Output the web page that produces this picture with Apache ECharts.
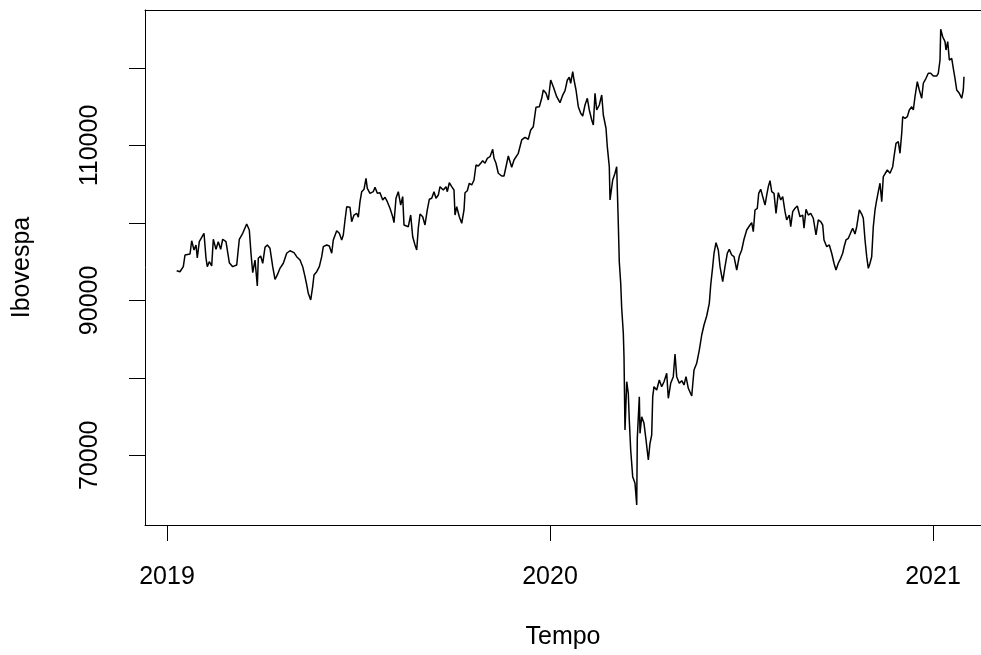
<!DOCTYPE html>
<html>
<head>
<meta charset="utf-8">
<script src="https://cdn.jsdelivr.net/npm/echarts@6/dist/echarts.min.js"></script>
<style>
html,body{margin:0;padding:0;background:#fff;}
#chart{width:981px;height:655px;}
</style>
</head>
<body>
<div id="chart"></div>
<script>
// Time (decimal year) and Ibovespa closing level
const tempo = [
2019.0253,2019.0339,2019.0426,2019.0470,2019.0601,2019.0645,2019.0705,2019.0757,2019.0791,2019.0843,
2019.0906,2019.0966,2019.1018,2019.1052,2019.1104,2019.1167,2019.1209,2019.1279,2019.1339,2019.1402,
2019.1454,2019.1540,2019.1574,2019.1627,2019.1715,2019.1820,2019.1888,2019.1977,2019.2081,2019.2149,
2019.2193,2019.2238,2019.2298,2019.2358,2019.2384,2019.2446,2019.2499,2019.2559,2019.2619,2019.2689,
2019.2760,2019.2820,2019.2880,2019.2950,2019.3037,2019.3125,2019.3211,2019.3316,2019.3386,2019.3473,
2019.3543,2019.3603,2019.3648,2019.3689,2019.3752,2019.3804,2019.3838,2019.3909,2019.3977,2019.4039,
2019.4081,2019.4170,2019.4238,2019.4300,2019.4342,2019.4431,2019.4499,2019.4561,2019.4603,2019.4648,
2019.4692,2019.4778,2019.4822,2019.4883,2019.4953,2019.4995,2019.5039,2019.5084,2019.5144,2019.5196,
2019.5230,2019.5300,2019.5386,2019.5431,2019.5491,2019.5561,2019.5632,2019.5692,2019.5752,2019.5822,
2019.5893,2019.5927,2019.5979,2019.6039,2019.6102,2019.6154,2019.6188,2019.6240,2019.6300,2019.6363,
2019.6415,2019.6475,2019.6520,2019.6561,2019.6606,2019.6676,2019.6736,2019.6796,2019.6849,2019.6911,
2019.6971,2019.7023,2019.7084,2019.7128,2019.7214,2019.7285,2019.7319,2019.7371,2019.7433,2019.7493,
2019.7520,2019.7564,2019.7632,2019.7695,2019.7755,2019.7781,2019.7841,2019.7893,2019.7956,2019.8016,
2019.8068,2019.8128,2019.8191,2019.8243,2019.8303,2019.8363,2019.8433,2019.8504,2019.8538,2019.8590,
2019.8650,2019.8739,2019.8799,2019.8911,2019.9000,2019.9060,2019.9172,2019.9261,2019.9347,2019.9433,
2019.9496,2019.9564,2019.9634,2019.9721,2019.9783,2019.9825,2019.9896,2019.9956,2020.0018,2020.0086,
2020.0175,2020.0261,2020.0332,2020.0392,2020.0452,2020.0504,2020.0540,2020.0593,2020.0627,2020.0679,
2020.0739,2020.0802,2020.0854,2020.0914,2020.0974,2020.1026,2020.1089,2020.1131,2020.1175,2020.1219,
2020.1287,2020.1350,2020.1392,2020.1462,2020.1496,2020.1548,2020.1567,2020.1637,2020.1697,2020.1741,
2020.1783,2020.1809,2020.1846,2020.1872,2020.1914,2020.1932,2020.1958,2020.2003,2020.2044,2020.2070,
2020.2107,2020.2159,2020.2219,2020.2264,2020.2279,2020.2332,2020.2350,2020.2394,2020.2454,2020.2507,
2020.2567,2020.2611,2020.2655,2020.2682,2020.2715,2020.2786,2020.2854,2020.2916,2020.2977,2020.3047,
2020.3089,2020.3151,2020.3219,2020.3264,2020.3308,2020.3376,2020.3439,2020.3499,2020.3551,2020.3611,
2020.3700,2020.3760,2020.3830,2020.3898,2020.3961,2020.4021,2020.4091,2020.4159,2020.4196,2020.4248,
2020.4282,2020.4334,2020.4394,2020.4439,2020.4509,2020.4569,2020.4629,2020.4681,2020.4744,2020.4804,
2020.4875,2020.4943,2020.5005,2020.5065,2020.5136,2020.5204,2020.5266,2020.5308,2020.5352,2020.5413,
2020.5449,2020.5501,2020.5554,2020.5614,2020.5658,2020.5700,2020.5744,2020.5789,2020.5849,2020.5901,
2020.5961,2020.6024,2020.6076,2020.6136,2020.6180,2020.6248,2020.6285,2020.6337,2020.6397,2020.6457,
2020.6527,2020.6598,2020.6632,2020.6684,2020.6744,2020.6807,2020.6875,2020.6945,2020.7005,2020.7068,
2020.7120,2020.7154,2020.7225,2020.7292,2020.7355,2020.7415,2020.7467,2020.7527,2020.7590,2020.7642,
2020.7676,2020.7728,2020.7789,2020.7851,2020.7903,2020.7963,2020.8008,2020.8076,2020.8138,2020.8180,
2020.8225,2020.8269,2020.8311,2020.8355,2020.8399,2020.8441,2020.8486,2020.8530,2020.8572,2020.8616,
2020.8661,2020.8702,2020.8755,2020.8807,2020.8877,2020.8948,2020.8982,2020.9034,2020.9094,2020.9138,
2020.9183,2020.9209,2020.9269,2020.9329,2020.9381,2020.9444,2020.9486,2020.9530,2020.9590,2020.9642,
2020.9705,2020.9747,2020.9817,2020.9877,2020.9940,2021.0008,2021.0097,2021.0138,2021.0183,2021.0201,
2021.0253,2021.0313,2021.0339,2021.0384,2021.0426,2021.0488,2021.0530,2021.0574,2021.0619,2021.0687,
2021.0749,2021.0791,2021.0809
];
const ibovespa = [
93830,93700,94350,95860,95990,97700,96500,97150,95470,97580,
98140,98660,95470,94350,94990,94440,97890,96590,97580,96590,
97890,97580,97370,94860,94350,94570,97890,98660,99860,99090,
96080,93570,95210,91860,95430,95730,94790,96850,97150,96720,
94350,92720,93280,94140,94790,96080,96410,96160,95640,95210,
94350,93060,91990,90910,90050,91770,93280,93700,94350,95640,
96930,97150,97020,96080,97800,99000,98660,97800,98440,100380,
102090,102020,100160,101020,101240,100730,102740,104030,104340,105760,
104470,103820,104030,104600,103820,103900,102960,103310,102740,101890,
100800,100030,103180,104030,102310,103390,99730,99510,99510,101020,
98220,97150,96500,99310,101150,100800,99730,101670,103050,103180,
104030,103180,103600,104680,104250,104680,104030,105190,104680,104250,
101020,102090,100800,99950,101670,103900,104160,105120,104900,105540,
107480,107350,107700,108030,107700,108340,108550,109500,108340,107700,
106410,106060,106060,108640,107180,108120,108990,110710,111050,110800,
112000,112420,114930,115000,116090,117160,116730,115870,118450,117590,
116300,115520,116510,117070,118450,118800,118030,119520,118450,117160,
115000,114150,113800,115220,116090,114580,113290,112640,116730,114580,
115220,116510,113930,112220,109840,107260,102960,105540,106410,107260,
99950,94990,92210,88980,85750,82730,73270,79500,78000,74560,
70680,67240,66390,63580,72190,77570,72840,74980,74130,71980,
69390,71550,72620,77570,78860,78430,79720,78860,79500,80590,
77360,79300,80150,83080,80150,79300,79630,79080,80150,78650,
77660,81010,81880,83590,85530,86820,87980,89620,91990,94350,
96080,97450,96500,94350,92410,94350,96080,96590,95860,95640,
93920,95730,96500,97890,99090,99600,100030,98870,101670,101890,
103820,104340,103390,102310,103600,104680,105450,104030,103820,101240,
103900,102960,103390,101450,100380,101020,99510,101450,101890,102180,
100800,101020,99310,101760,101020,101240,100600,98440,100380,100160,
99730,97800,96930,97150,96080,94790,93920,94790,95430,96080,
96850,97800,98010,98740,99310,98570,99510,101670,101150,100600,
97800,95640,94140,94790,95640,99510,101670,102960,104030,105120,
102740,105970,106410,106830,106410,107260,108550,110280,110490,108990,
111570,113710,113510,113710,114580,115000,114580,116300,118230,117160,
116090,118030,118670,119320,119320,118970,118970,119320,121030,125000,
124040,123400,122320,123400,121030,121250,119960,118670,117160,116730,
116090,117160,118880
];
const xTickValues = [2019, 2020, 2021];
const yTickValues = [70000, 80000, 90000, 100000, 110000, 120000];
const yLabelValues = [70000, 90000, 110000];

const seriesData = tempo.map((t, i) => [t, ibovespa[i]]);
const font = '"Liberation Sans", Arial, sans-serif';
const X_MIN = 2018.94256, X_MAX = 2021.1253;

const chart = echarts.init(document.getElementById('chart'), null, {renderer: 'canvas'});
chart.setOption({
  animation: false,
  backgroundColor: '#ffffff',
  grid: {
    left: 145, right: 0, top: 10, bottom: 130,
    show: false
  },
  xAxis: [{
    type: 'value',
    position: 'bottom',
    min: X_MIN, max: X_MAX,
    name: 'Tempo', nameLocation: 'middle', nameGap: 100,
    nameTextStyle: {color: '#000', fontSize: 25, fontFamily: font},
    axisLine: {show: true, onZero: false, lineStyle: {color: '#000', width: 1}},
    axisTick: {show: true, customValues: xTickValues, length: 16, inside: false, lineStyle: {color: '#000', width: 1}},
    axisLabel: {show: true, customValues: xTickValues, margin: 40, color: '#000', fontSize: 25, fontFamily: font,
      formatter: v => String(v)},
    splitLine: {show: false}
  }, {
    type: 'value',
    position: 'top',
    min: X_MIN, max: X_MAX,
    axisLine: {show: true, onZero: false, lineStyle: {color: '#000', width: 1}},
    axisTick: {show: false},
    axisLabel: {show: false},
    splitLine: {show: false}
  }],
  yAxis: {
    type: 'value',
    min: 61002, max: 127487,
    name: 'Ibovespa', nameLocation: 'middle', nameGap: 110,
    nameTextStyle: {color: '#000', fontSize: 25, fontFamily: font},
    axisLine: {show: true, onZero: false, lineStyle: {color: '#000', width: 1}},
    axisTick: {show: true, customValues: yTickValues, length: 16, inside: false, lineStyle: {color: '#000', width: 1}},
    axisLabel: {show: true, customValues: yLabelValues, rotate: 90, margin: 42, color: '#000', fontSize: 25, fontFamily: font,
      formatter: v => String(v)},
    splitLine: {show: false}
  },
  series: [{
    type: 'line',
    xAxisIndex: 0,
    data: seriesData,
    showSymbol: false,
    symbol: 'none',
    lineStyle: {color: '#000', width: 1.5},
    silent: true
  }]
});
</script>
</body>
</html>
